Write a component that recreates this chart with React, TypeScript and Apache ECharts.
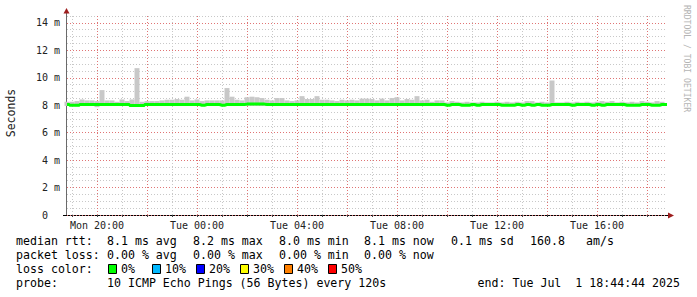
import React, { useEffect, useRef } from 'react';
import * as echarts from 'echarts';

// x domain: 12-minute columns from Mon 18:48 to Tue 18:48
const START_MIN = 18 * 60 + 48;
const STEP_MIN = 12;
const N_COLS = 121;
const DAYS = ['Mon', 'Tue'];
const CATEGORIES: string[] = Array.from({ length: N_COLS }, (_, i) => {
  const t = START_MIN + STEP_MIN * i;
  const d = DAYS[Math.floor(t / 1440)];
  const m = t % 1440;
  const hh = String(Math.floor(m / 60)).padStart(2, '0');
  const mm = String(m % 60).padStart(2, '0');
  return `${d} ${hh}:${mm}`;
});

const X_TICK_LABELS = ['Mon 20:00', 'Tue 00:00', 'Tue 04:00', 'Tue 08:00', 'Tue 12:00', 'Tue 16:00'];
const Y_MAX = 14.5;
const Y_MINOR = 0.5;

// upper edge of the smoke (max ping), ms
const SMOKE_HIGH = [
  8.25, 8.25, 8.3, 8.42, 8.35, 8.35, 8.3, 9.1, 8.35, 8.35,
  8.25, 8.42, 8.3, 8.42, 10.7, 8.25, 8.3, 8.3, 8.3, 8.35,
  8.4, 8.4, 8.45, 8.4, 8.62, 8.35, 8.42, 8.3, 8.35, 8.35,
  8.35, 8.35, 9.25, 8.62, 8.4, 8.35, 8.58, 8.62, 8.58, 8.52,
  8.4, 8.35, 8.52, 8.52, 8.35, 8.3, 8.35, 8.66, 8.45, 8.45,
  8.66, 8.4, 8.4, 8.35, 8.3, 8.4, 8.35, 8.4, 8.35, 8.48,
  8.48, 8.45, 8.35, 8.48, 8.35, 8.52, 8.58, 8.35, 8.45, 8.4,
  8.66, 8.35, 8.4, 8.25, 8.35, 8.35, 8.2, 8.3, 8.25, 8.2,
  8.25, 8.2, 8.2, 8.25, 8.2, 8.2, 8.25, 8.2, 8.25, 8.2,
  8.25, 8.2, 8.3, 8.3, 8.2, 8.25, 8.2, 9.8, 8.2, 8.2,
  8.25, 8.2, 8.25, 8.2, 8.25, 8.2, 8.25, 8.3, 8.25, 8.3,
  8.2, 8.25, 8.2, 8.25, 8.2, 8.3, 8.25, 8.2, 8.3, 8.25,
  null,
];

// lower edge of the smoke (min ping), ms
const SMOKE_LOW = [
  7.95, 7.95, 7.92, 7.95, 7.95, 7.95, 7.86, 7.95, 7.95, 7.95,
  7.95, 7.95, 7.95, 7.9, 7.9, 7.9, 7.95, 7.95, 7.95, 7.95,
  7.95, 7.95, 7.95, 7.95, 7.95, 7.95, 7.95, 7.95, 7.95, 7.95,
  7.95, 7.95, 7.95, 7.95, 7.95, 7.95, 7.95, 7.95, 7.95, 7.95,
  7.95, 7.95, 7.95, 7.95, 7.95, 7.95, 7.95, 7.95, 7.95, 7.95,
  7.95, 7.95, 7.95, 7.95, 7.95, 7.95, 7.95, 7.95, 7.95, 7.95,
  7.95, 7.95, 7.95, 7.95, 7.95, 7.95, 7.95, 7.95, 7.95, 7.95,
  7.95, 7.95, 7.95, 7.95, 7.95, 7.95, 7.95, 7.95, 7.95, 7.95,
  7.95, 7.95, 7.95, 7.95, 7.95, 7.95, 7.95, 7.95, 7.95, 7.95,
  7.95, 7.95, 7.95, 7.95, 7.95, 7.95, 7.95, 7.95, 7.95, 7.95,
  7.95, 7.95, 7.95, 7.95, 7.95, 7.95, 7.95, 7.95, 7.95, 7.95,
  7.95, 7.95, 7.95, 7.95, 7.95, 7.95, 7.95, 7.95, 7.95, 7.95,
  null,
];

// median rtt, ms
const MEDIAN = [
  8.05, 7.99, 7.99, 8.05, 8.05, 8.05, 8.05, 8.05, 8.05, 8.05,
  8.05, 8.05, 8.05, 7.97, 7.97, 7.97, 8.05, 8.05, 8.05, 8.05,
  8.05, 8.05, 8.05, 8.05, 8.05, 8.05, 8.05, 8.0, 8.05, 8.05,
  8.05, 8.0, 8.05, 8.05, 8.05, 8.05, 8.08, 8.08, 8.08, 8.08,
  8.05, 8.05, 8.05, 8.05, 8.05, 8.05, 8.05, 8.05, 8.05, 8.05,
  8.05, 8.05, 8.05, 8.05, 8.05, 8.05, 8.05, 8.05, 8.05, 8.05,
  8.05, 8.05, 8.05, 8.05, 8.05, 8.05, 8.05, 8.05, 8.05, 8.05,
  8.05, 8.05, 8.05, 8.05, 8.05, 8.05, 8.0, 8.05, 8.05, 8.0,
  8.0, 8.05, 8.0, 8.05, 8.05, 8.05, 8.05, 8.0, 8.0, 8.0,
  8.05, 8.0, 8.05, 8.0, 8.05, 8.0, 8.0, 8.05, 8.05, 8.05,
  8.05, 8.0, 8.05, 8.05, 8.05, 8.0, 8.05, 8.0, 8.05, 8.05,
  8.05, 8.05, 8.0, 8.0, 8.0, 8.05, 8.05, 8.0, 8.0, 8.05,
  8.05,
];

const RTT_LABEL = 'median rtt:';
const RTT_STATS = ['8.1 ms avg', '8.2 ms max', '8.0 ms min', '8.1 ms now', '0.1 ms sd', '160.8', 'am/s'];
const LOSS_LABEL = 'packet loss:';
const LOSS_STATS = ['0.00 % avg', '0.00 % max', '0.00 % min', '0.00 % now'];
const LOSS_COLOR_LABEL = 'loss color:';
const LOSS_COLORS = ['#00ff00', '#00b8ff', '#0000ff', '#ffff00', '#ff8000', '#ff0000'];
const LOSS_LABELS = ['0%', '10%', '20%', '30%', '40%', '50%'];
const PROBE_LABEL = 'probe:';
const PROBE_TEXT = '10 ICMP Echo Pings (56 Bytes) every 120s';
const END_TEXT = 'end: Tue Jul\u00a0\u00a01 18:44:44 2025';
const Y_NAME = 'Seconds';
const WATERMARK = 'RRDTOOL / TOBI OETIKER';

const MONO = '"DejaVu Sans Mono", monospace';
const MAJOR = '#e07474';
const MINOR = '#c8c8c8';

const GRID_L = 67;
const GRID_T = 16;
const GRID_R = 667;
const GRID_B = 215;

export default function App() {
  const ref = useRef<HTMLDivElement>(null);
  useEffect(() => {
    document.body.style.margin = '0';
    const chart = echarts.init(ref.current!, null, { renderer: 'svg' });
    const smokeSpan = SMOKE_HIGH.map((h, i) => (h == null || SMOKE_LOW[i] == null ? null : +(h - (SMOKE_LOW[i] as number)).toFixed(3)));
    const txt = (text: string, x: number, y: number, extra: any = {}) => ({
      type: 'text', x, y, silent: true,
      style: { text, fontFamily: MONO, fontSize: 11.6, fill: '#000', verticalAlign: 'middle', align: 'left', ...extra },
    });
    const rttX = [107, 193, 279, 364, 451, 530, 586];
    const lossX = [107, 193, 279, 364];
    const graphic: any[] = [
      { type: 'line', silent: true, shape: { x1: GRID_L - 0.5, y1: GRID_B, x2: GRID_L - 0.5, y2: 11 }, style: { stroke: '#6a6a6a', lineWidth: 1 } },
      { type: 'line', silent: true, shape: { x1: 63, y1: GRID_B + 0.5, x2: 669, y2: GRID_B + 0.5 }, style: { stroke: '#000', lineWidth: 1 } },
      { type: 'polygon', silent: true, shape: { points: [[GRID_L - 3.5, 13.5], [GRID_L + 2.5, 13.5], [GRID_L - 0.5, 8]] }, style: { fill: '#9e1e1e' } },
      { type: 'polygon', silent: true, shape: { points: [[668, GRID_B - 2.5], [668, GRID_B + 3.5], [674, GRID_B + 0.5]] }, style: { fill: '#9e1e1e' } },
      { ...txt(Y_NAME, 11, 113, { align: 'center', fontSize: 11.5, fill: '#222' }), rotation: Math.PI / 2 },
      { ...txt(WATERMARK, 687, 5, { fontSize: 8.1, fill: '#b4b4b4' }), rotation: -Math.PI / 2 },
      txt(RTT_LABEL, 16, 241),
      ...RTT_STATS.map((s, i) => txt(s, rttX[i], 241)),
      txt(LOSS_LABEL, 16, 255),
      ...LOSS_STATS.map((s, i) => txt(s, lossX[i], 255)),
      txt(LOSS_COLOR_LABEL, 16, 269),
      ...LOSS_COLORS.map((c, i) => ({
        type: 'rect', silent: true,
        shape: { x: 108.5 + i * 44, y: 264.5, width: 8, height: 9 },
        style: { fill: c, stroke: '#000', lineWidth: 1 },
      })),
      ...LOSS_LABELS.map((s, i) => txt(s, 121 + i * 44, 269)),
      txt(PROBE_LABEL, 16, 283),
      txt(PROBE_TEXT, 107, 283),
      txt(END_TEXT, 680, 283, { align: 'right' }),
    ];

    const isHour = (v: string) => v.endsWith(':00');
    chart.setOption({
      animation: false,
      backgroundColor: '#fff',
      grid: { left: GRID_L, top: GRID_T, width: GRID_R - GRID_L, height: GRID_B - GRID_T, outerBoundsMode: 'none' },
      xAxis: {
        type: 'category',
        data: CATEGORIES,
        boundaryGap: false,
        axisLine: { show: false },
        axisTick: { show: true, interval: (_i: number, v: string) => isHour(v), length: 2, lineStyle: { color: '#444' } },
        axisLabel: {
          interval: (_i: number, v: string) => X_TICK_LABELS.includes(v),
          fontFamily: MONO, fontSize: 10, color: '#222', margin: 5,
        },
        splitLine: { show: true, interval: (_i: number, v: string) => isHour(v), lineStyle: { color: [MINOR, MAJOR], type: [1, 2], width: 1 } },
      },
      yAxis: {
        type: 'value',
        min: 0,
        max: Y_MAX,
        interval: Y_MINOR,
        axisLine: { show: false },
        axisTick: { show: false },
        axisLabel: {
          fontFamily: MONO, fontSize: 10, color: '#222', margin: 7,
          formatter: (v: number) => (Math.abs(v % 2) < 1e-9 ? (v === 0 ? '0\u00a0\u00a0' : `${v} m`) : ''),
        },
        splitLine: { show: true, lineStyle: { color: [MAJOR, MINOR, MINOR, MINOR], type: [1, 2], width: 1 } },
      },
      series: [
        { type: 'bar', stack: 'smoke', data: SMOKE_LOW, itemStyle: { color: 'rgba(0,0,0,0)' }, barCategoryGap: '0%', silent: true },
        { type: 'bar', stack: 'smoke', data: smokeSpan, itemStyle: { color: '#c8c8c8' }, barCategoryGap: '0%', silent: true },
        {
          type: 'line', data: MEDIAN, step: 'middle', symbol: 'none', silent: true, z: 5,
          lineStyle: { color: '#00ff00', width: 3 },
        },
      ],
      graphic,
    });
    return () => chart.dispose();
  }, []);
  return <div ref={ref} style={{ width: 697, height: 297 }} />;
}
